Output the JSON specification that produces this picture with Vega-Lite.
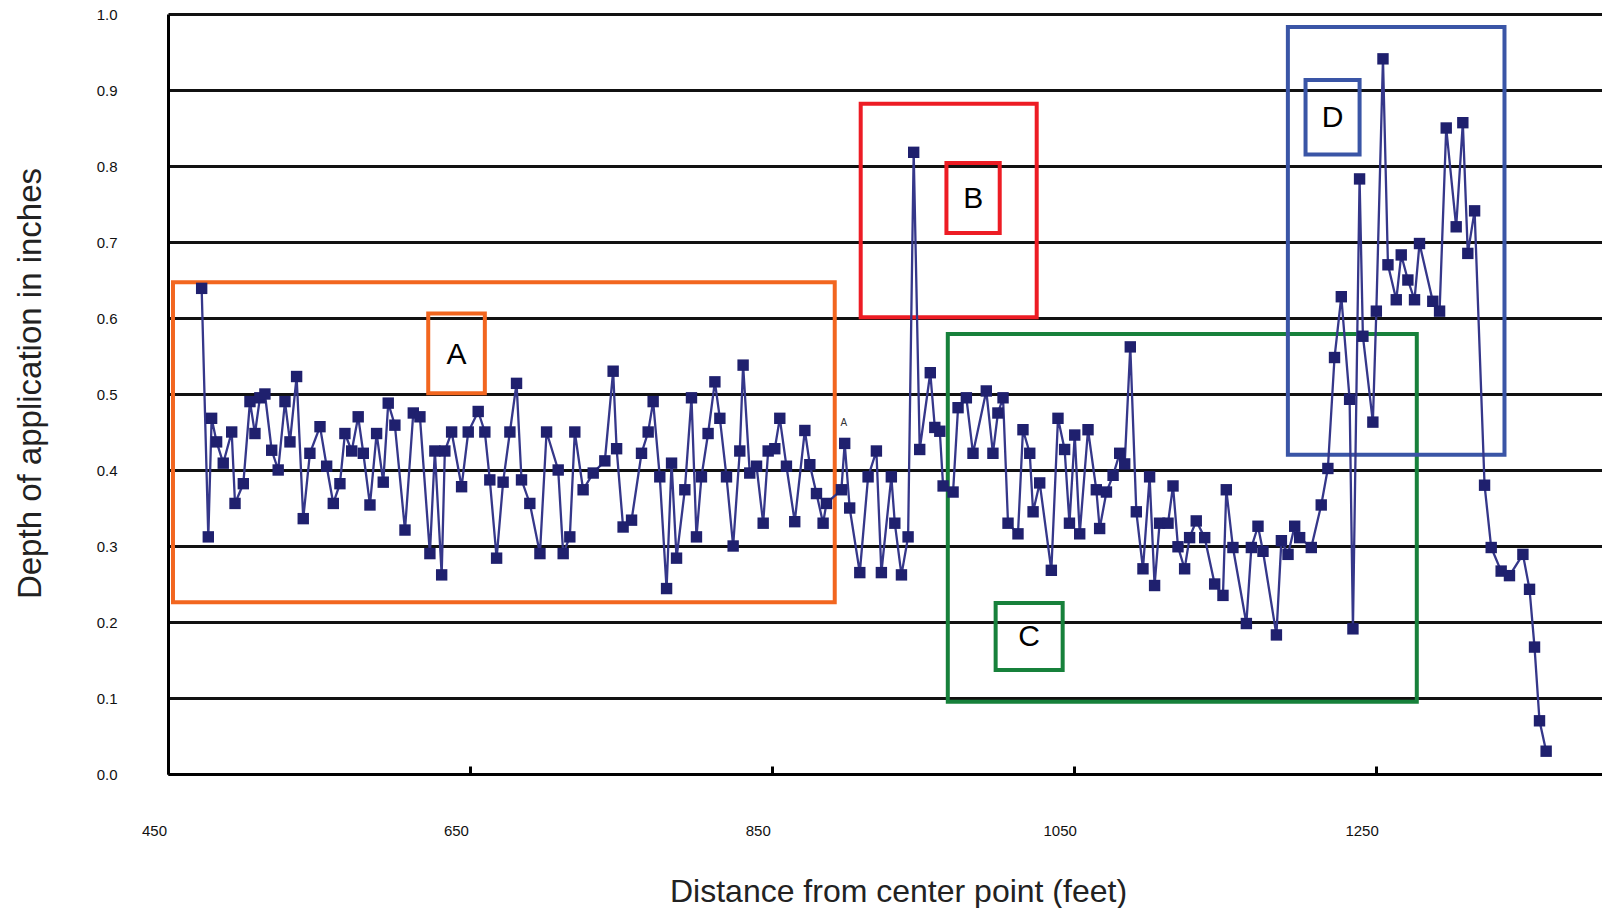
{
  "$schema": "https://vega.github.io/schema/vega-lite/v6.json",
  "autosize": "none",
  "width": 1434,
  "height": 760,
  "padding": {"left": 168, "top": 14, "right": 0, "bottom": 134},
  "background": "white",
  "config": {
    "view": {"stroke": null},
    "font": "Liberation Sans",
    "axis": {"labelFont": "Liberation Sans", "titleFont": "Liberation Sans"}
  },
  "datasets": {
    "series": [
      {"d":472.3,"v":0.639},{"d":476.7,"v":0.312},{"d":478.9,"v":0.468},{"d":482.2,"v":0.437},{"d":486.6,"v":0.409},
      {"d":492.2,"v":0.45},{"d":494.4,"v":0.356},{"d":499.9,"v":0.382},{"d":504.3,"v":0.49},{"d":507.6,"v":0.448},
      {"d":510.9,"v":0.495},{"d":514.2,"v":0.5},{"d":518.7,"v":0.426},{"d":523.0,"v":0.4},{"d":527.5,"v":0.49},
      {"d":530.8,"v":0.437},{"d":535.2,"v":0.523},{"d":539.6,"v":0.336},{"d":544.0,"v":0.422},{"d":550.7,"v":0.457},
      {"d":555.1,"v":0.405},{"d":559.5,"v":0.356},{"d":563.9,"v":0.382},{"d":567.2,"v":0.448},{"d":571.7,"v":0.425},
      {"d":576.0,"v":0.47},{"d":579.4,"v":0.422},{"d":583.8,"v":0.354},{"d":588.2,"v":0.448},{"d":592.6,"v":0.384},
      {"d":595.9,"v":0.488},{"d":600.3,"v":0.459},{"d":607.0,"v":0.321},{"d":612.5,"v":0.475},{"d":616.9,"v":0.47},
      {"d":623.5,"v":0.29},{"d":626.8,"v":0.425},{"d":631.3,"v":0.262},{"d":633.4,"v":0.425},{"d":637.9,"v":0.45},
      {"d":644.5,"v":0.378},{"d":648.9,"v":0.45},{"d":655.5,"v":0.477},{"d":659.9,"v":0.45},{"d":663.2,"v":0.387},
      {"d":667.7,"v":0.284},{"d":672.0,"v":0.384},{"d":676.5,"v":0.45},{"d":680.9,"v":0.514},{"d":684.2,"v":0.387},
      {"d":689.7,"v":0.356},{"d":696.4,"v":0.29},{"d":700.8,"v":0.45},{"d":708.5,"v":0.4},{"d":711.8,"v":0.29},
      {"d":716.2,"v":0.312},{"d":719.5,"v":0.45},{"d":725.0,"v":0.374},{"d":731.7,"v":0.396},{"d":739.4,"v":0.412},
      {"d":744.9,"v":0.53},{"d":747.2,"v":0.428},{"d":751.5,"v":0.325},{"d":757.1,"v":0.334},{"d":763.7,"v":0.422},
      {"d":768.1,"v":0.45},{"d":771.4,"v":0.49},{"d":775.8,"v":0.391},{"d":780.3,"v":0.244},{"d":783.6,"v":0.409},
      {"d":786.9,"v":0.284},{"d":792.4,"v":0.374},{"d":796.8,"v":0.495},{"d":800.1,"v":0.312},{"d":803.4,"v":0.391},
      {"d":807.8,"v":0.448},{"d":812.3,"v":0.516},{"d":815.6,"v":0.468},{"d":820.0,"v":0.391},{"d":824.4,"v":0.3},
      {"d":828.8,"v":0.425},{"d":831.0,"v":0.538},{"d":835.4,"v":0.396},{"d":839.9,"v":0.405},{"d":844.3,"v":0.33},
      {"d":847.6,"v":0.425},{"d":852.0,"v":0.428},{"d":855.3,"v":0.468},{"d":859.7,"v":0.405},{"d":865.2,"v":0.332},
      {"d":871.9,"v":0.452},{"d":875.2,"v":0.407},{"d":879.6,"v":0.369},{"d":884.0,"v":0.33},{"d":886.2,"v":0.356},
      {"d":896.1,"v":0.374},{"d":898.3,"v":0.435},{"d":901.6,"v":0.35},{"d":908.3,"v":0.265},{"d":913.8,"v":0.391},
      {"d":919.3,"v":0.425},{"d":922.6,"v":0.265},{"d":929.2,"v":0.391},{"d":931.5,"v":0.33},{"d":935.9,"v":0.262},
      {"d":940.3,"v":0.312},{"d":944.0,"v":0.818},{"d":948.0,"v":0.427},{"d":955.0,"v":0.528},{"d":958.0,"v":0.456},
      {"d":961.3,"v":0.451},{"d":963.5,"v":0.379},{"d":970.1,"v":0.371},{"d":973.4,"v":0.482},{"d":978.9,"v":0.495},
      {"d":983.3,"v":0.422},{"d":992.1,"v":0.504},{"d":996.5,"v":0.422},{"d":999.8,"v":0.475},{"d":1003.2,"v":0.495},
      {"d":1006.5,"v":0.33},{"d":1013.1,"v":0.316},{"d":1016.4,"v":0.453},{"d":1020.9,"v":0.422},{"d":1023.1,"v":0.345},
      {"d":1027.5,"v":0.383},{"d":1035.2,"v":0.268},{"d":1039.6,"v":0.468},{"d":1044.0,"v":0.427},{"d":1047.2,"v":0.33},
      {"d":1050.7,"v":0.446},{"d":1054.0,"v":0.316},{"d":1059.5,"v":0.453},{"d":1065.0,"v":0.374},{"d":1067.2,"v":0.323},
      {"d":1071.7,"v":0.371},{"d":1076.1,"v":0.393},{"d":1080.5,"v":0.422},{"d":1083.8,"v":0.408},{"d":1087.5,"v":0.562},
      {"d":1091.5,"v":0.345},{"d":1095.9,"v":0.27},{"d":1100.3,"v":0.391},{"d":1103.6,"v":0.248},{"d":1106.9,"v":0.33},
      {"d":1112.5,"v":0.33},{"d":1115.8,"v":0.379},{"d":1119.1,"v":0.299},{"d":1123.5,"v":0.27},{"d":1126.8,"v":0.311},
      {"d":1131.2,"v":0.333},{"d":1136.8,"v":0.311},{"d":1143.4,"v":0.25},{"d":1148.9,"v":0.235},{"d":1151.1,"v":0.374},
      {"d":1155.5,"v":0.298},{"d":1164.4,"v":0.198},{"d":1167.7,"v":0.298},{"d":1172.1,"v":0.326},{"d":1175.4,"v":0.293},
      {"d":1184.3,"v":0.183},{"d":1187.6,"v":0.307},{"d":1192.0,"v":0.289},{"d":1196.4,"v":0.326},{"d":1199.7,"v":0.311},
      {"d":1207.4,"v":0.298},{"d":1214.0,"v":0.354},{"d":1218.4,"v":0.402},{"d":1222.8,"v":0.548},{"d":1227.3,"v":0.628},
      {"d":1232.8,"v":0.493},{"d":1235.0,"v":0.191},{"d":1239.4,"v":0.783},{"d":1241.6,"v":0.576},{"d":1248.2,"v":0.463},
      {"d":1250.5,"v":0.609},{"d":1254.9,"v":0.941},{"d":1258.2,"v":0.67},{"d":1263.7,"v":0.624},{"d":1267.0,"v":0.683},
      {"d":1271.4,"v":0.65},{"d":1275.8,"v":0.624},{"d":1279.1,"v":0.698},{"d":1287.9,"v":0.622},{"d":1292.4,"v":0.609},
      {"d":1296.8,"v":0.85},{"d":1303.4,"v":0.72},{"d":1307.8,"v":0.857},{"d":1311.1,"v":0.685},{"d":1315.6,"v":0.741},
      {"d":1322.2,"v":0.38},{"d":1326.6,"v":0.298},{"d":1333.2,"v":0.267},{"d":1338.7,"v":0.261},{"d":1347.6,"v":0.289},
      {"d":1352.0,"v":0.243},{"d":1355.3,"v":0.167},{"d":1358.6,"v":0.07},{"d":1363.0,"v":0.03}
    ],
    "boxes": [
      {"name":"A","d":453.3,"d2":891.7,"v":0.647,"v2":0.226},
      {"name":"A","d":622.4,"d2":659.9,"v":0.606,"v2":0.501},
      {"name":"B","d":908.9,"d2":1025.5,"v":0.882,"v2":0.601},
      {"name":"B","d":965.7,"d2":1001.0,"v":0.804,"v2":0.712},
      {"name":"C","d":966.6,"d2":1277.3,"v":0.579,"v2":0.095},
      {"name":"C","d":998.3,"d2":1042.7,"v":0.225,"v2":0.137},
      {"name":"D","d":1191.9,"d2":1335.4,"v":0.983,"v2":0.42},
      {"name":"D","d":1203.6,"d2":1239.4,"v":0.913,"v2":0.815}
    ],
    "labels": [
      {"name":"A","d":641.2,"v":0.553},
      {"name":"B","d":983.4,"v":0.758},
      {"name":"C","d":1020.5,"v":0.181},
      {"name":"D","d":1221.5,"v":0.864}
    ]
  },
  "encoding": {
    "x": {
      "field": "d", "type": "quantitative",
      "scale": {"domain": [450, 1400], "nice": false, "zero": false},
      "axis": {
        "values": [450, 650, 850, 1050, 1250],
        "format": "d",
        "labelFlush": false, "labelOverlap": false, "labelBound": false,
        "grid": false,
        "domainColor": "#000", "domainWidth": 3,
        "tickColor": "#000", "tickWidth": 3, "tickSize": -8,
        "labelFontSize": 15, "labelColor": "#111", "labelPadding": 57, "labelOffset": -14,
        "title": "Distance from center point (feet)",
        "titleFontSize": 32, "titleFontWeight": "normal", "titleColor": "#222",
        "titleX": 730, "titleY": 127, "titleAlign": "center", "titleBaseline": "alphabetic"
      }
    },
    "y": {
      "field": "v", "type": "quantitative",
      "scale": {"domain": [0, 1], "nice": false, "zero": true},
      "axis": {
        "values": [0, 0.1, 0.2, 0.3, 0.4, 0.5, 0.6, 0.7, 0.8, 0.9, 1.0],
        "format": ".1f",
        "labelFlush": false, "labelOverlap": false,
        "grid": true, "gridColor": "#111", "gridWidth": 3,
        "ticks": false,
        "domainColor": "#000", "domainWidth": 3,
        "labelFontSize": 15, "labelColor": "#111", "labelPadding": 51, "labelDy": 6,
        "title": "Depth of application in inches",
        "titleFontSize": 33, "titleFontWeight": "normal", "titleColor": "#222",
        "titleAngle": -90, "titleX": -128, "titleY": 369, "titleAlign": "center", "titleBaseline": "alphabetic"
      }
    }
  },
  "layer": [
    {
      "data": {"name": "boxes"},
      "mark": {"type": "rect", "fillOpacity": 0, "strokeWidth": 4},
      "encoding": {
        "x2": {"field": "d2"},
        "y2": {"field": "v2"},
        "stroke": {"field": "name", "type": "nominal", "legend": null,
          "scale": {"domain": ["A", "B", "C", "D"], "range": ["#f2661f", "#ed1c24", "#17813b", "#3a55a6"]}}
      }
    },
    {
      "data": {"name": "series"},
      "mark": {"type": "line", "color": "#35378a", "strokeWidth": 2.3},
      "encoding": {"order": {"field": "d", "type": "quantitative"}}
    },
    {
      "data": {"name": "series"},
      "mark": {"type": "point", "shape": "square", "filled": true, "size": 130, "color": "#1f206e", "opacity": 1}
    },
    {
      "data": {"name": "labels"},
      "mark": {"type": "text", "fontSize": 30, "color": "#000", "align": "center", "baseline": "middle", "dy": 1},
      "encoding": {"text": {"field": "name"}}
    },
    {
      "data": {"values": [{"d": 897.7, "v": 0.462, "t": "A"}]},
      "mark": {"type": "text", "fontSize": 10, "color": "#333", "align": "center", "baseline": "middle"},
      "encoding": {"text": {"field": "t"}}
    }
  ]
}
